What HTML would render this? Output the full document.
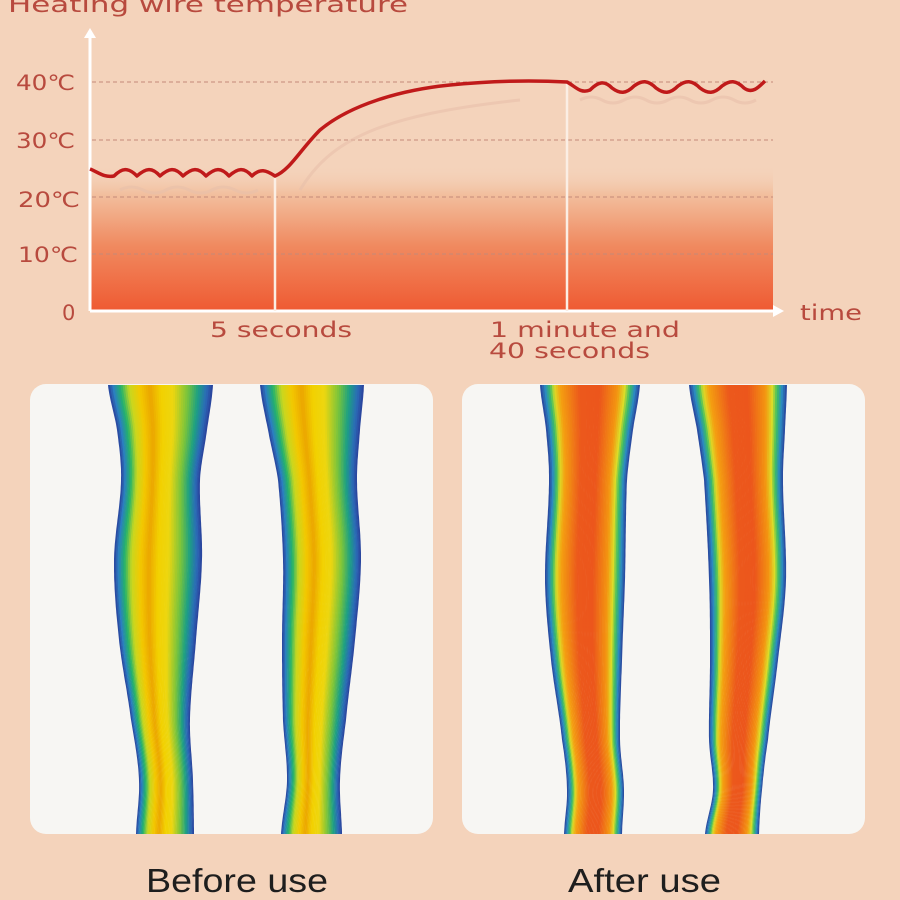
<!DOCTYPE html>
<html><head><meta charset="utf-8"><style>
html,body{margin:0;padding:0;background:#f4d3bb;}
svg{display:block}
.lb{font-family:"DejaVu Sans","Liberation Sans",sans-serif}
.bt{font-family:"Liberation Sans","DejaVu Sans",sans-serif}
</style></head><body>
<svg id="s" width="900" height="900" viewBox="0 0 900 900" xmlns="http://www.w3.org/2000/svg">
<defs>
<linearGradient id="fill" x1="0" y1="0" x2="0" y2="1">
<stop offset="0" stop-color="#f4d3bb" stop-opacity="0"/>
<stop offset="0.2" stop-color="#f2bf9e"/>
<stop offset="0.55" stop-color="#f08a60"/>
<stop offset="1" stop-color="#ef5a32"/>
</linearGradient>
</defs>
<text class="lb" x="8" y="12" font-size="22" fill="#b84a3e" textLength="400" lengthAdjust="spacingAndGlyphs">Heating wire temperature</text>
<rect x="90" y="165" width="683" height="146" fill="url(#fill)"/>
<g stroke="#c48a78" stroke-dasharray="4,3" stroke-width="1">
<line x1="92" y1="82" x2="773" y2="82"/>
<line x1="92" y1="140" x2="773" y2="140"/>
<line x1="92" y1="197" x2="773" y2="197"/>
<line x1="92" y1="254" x2="773" y2="254"/>
</g>
<line x1="90" y1="311" x2="90" y2="36" stroke="#fff" stroke-width="3"/>
<polygon points="84,38 96,38 90,28" fill="#fff"/>
<line x1="90" y1="311" x2="775" y2="311" stroke="#fff" stroke-width="3"/>
<polygon points="773,305 773,317 784,311" fill="#fff"/>
<line x1="275" y1="178" x2="275" y2="311" stroke="#fbeee4" stroke-width="2.5"/>
<line x1="567" y1="82" x2="567" y2="311" stroke="#fbeee4" stroke-width="2.5"/>
<path d="M120,190 q11,-6 23,0 t23,0 t23,0 t23,0 t23,0 t23,0 M300,190 C330,140 380,115 520,100 M580,100 q11,-6 22,0 t22,0 t22,0 t22,0 t22,0 t22,0 t22,0 t22,0" fill="none" stroke="#e8c0aa" stroke-width="3" opacity="0.6"/>
<path d="M90,169 C98,172 104,178 114,176 C122,168 128,167 137,176 C146,168 152,167 160,176 C169,168 175,167 183,176 C192,168 198,167 206,176 C215,168 221,167 229,176 C238,168 244,167 252,176 C260,168 266,170 275,176 C290,170 300,150 320,130 C350,105 400,90 450,85 C490,81 530,80 567,82 C575,86 580,94 590,90 C598,82 604,80 612,88 C620,94 626,94 634,86 C642,80 648,80 656,88 C664,94 670,94 678,86 C686,80 692,80 700,88 C708,94 714,94 722,86 C730,80 736,80 744,88 C752,94 758,88 765,81" fill="none" stroke="#c01a1a" stroke-width="3.5" stroke-linejoin="round"/>
<g class="lb" font-size="21" fill="#b84a3e">
<text x="16" y="90" textLength="59" lengthAdjust="spacingAndGlyphs">40℃</text>
<text x="16" y="148" textLength="59" lengthAdjust="spacingAndGlyphs">30℃</text>
<text x="18" y="207" textLength="62" lengthAdjust="spacingAndGlyphs">20℃</text>
<text x="18" y="262" textLength="60" lengthAdjust="spacingAndGlyphs">10℃</text>
<text x="62" y="320">0</text>
<text x="210" y="337" textLength="142" lengthAdjust="spacingAndGlyphs">5 seconds</text>
<text x="490" y="337" textLength="190" lengthAdjust="spacingAndGlyphs">1 minute and</text>
<text x="489" y="358" textLength="161" lengthAdjust="spacingAndGlyphs">40 seconds</text>
<text x="800" y="320" textLength="62" lengthAdjust="spacingAndGlyphs">time</text>
</g>
<rect x="30" y="384" width="403" height="450" rx="16" fill="#f7f6f3"/>
<rect x="462" y="384" width="403" height="450" rx="16" fill="#f7f6f3"/>
<g id="legs"></g>
<g class="bt" font-size="33" fill="#1e1e1e">
<text x="146" y="892" textLength="182" lengthAdjust="spacingAndGlyphs">Before use</text>
<text x="568" y="892" textLength="153" lengthAdjust="spacingAndGlyphs">After use</text>
</g>
</svg>
<script>
(function(){
var before=[[0,[42,63,154]],[0.05,[43,127,192]],[0.12,[34,178,106]],[0.2,[200,216,32]],[0.3,[243,200,0]],[0.4,[235,166,0]],[0.5,[242,208,0]],[0.62,[236,214,16]],[0.76,[120,196,60]],[0.86,[28,160,130]],[0.94,[43,108,184]],[1,[42,63,154]]];
var after=[[0,[42,63,154]],[0.05,[43,138,192]],[0.1,[60,191,96]],[0.14,[220,220,40]],[0.2,[244,160,16]],[0.4,[236,88,28]],[0.6,[236,86,28]],[0.78,[243,150,16]],[0.85,[220,220,40]],[0.9,[60,191,96]],[0.95,[43,138,192]],[1,[42,63,154]]];
function col(st,t){for(var i=1;i<st.length;i++){if(t<=st[i][0]){var a=st[i-1],b=st[i],f=(t-a[0])/(b[0]-a[0]);return 'rgb('+a[1].map(function(v,k){return Math.round(v+(b[1][k]-v)*f)}).join(',')+')';}}return 'rgb(42,63,154)';}
function cr(p0,p1,p2,p3,f){var f2=f*f,f3=f2*f;return 0.5*((2*p1)+(-p0+p2)*f+(2*p0-5*p1+4*p2-p3)*f2+(-p0+3*p1-3*p2+p3)*f3);}
function edge(rows,y){var n=rows.length;for(var i=1;i<n;i++){if(y<=rows[i][0]){var a=rows[i-1],b=rows[i],f=(y-a[0])/(b[0]-a[0]);var a0=rows[Math.max(0,i-2)],b1=rows[Math.min(n-1,i+1)];return [cr(a0[1],a[1],b[1],b1[1],f),cr(a0[2],a[2],b[2],b1[2],f)];}}var l=rows[n-1];return [l[1],l[2]];}
var g=document.getElementById('legs'),ns='http://www.w3.org/2000/svg';
function leg(rows,st){var ys=[];for(var y=385;y<=834;y+=3)ys.push(y);ys.push(834);var N=50;
for(var i=0;i<N;i++){var t0=i/N,t1=(i+1)/N+0.004,pts=[],back=[];ys.forEach(function(y){var e=edge(rows,y),w=e[1]-e[0];pts.push((e[0]+w*t0).toFixed(1)+','+y);back.unshift((e[0]+w*Math.min(1,t1)).toFixed(1)+','+y);});
var p=document.createElementNS(ns,'polygon');p.setAttribute('points',pts.concat(back).join(' '));p.setAttribute('fill',col(st,(i+0.5)/N));g.appendChild(p);}}
leg([[385,108,213],[430,117,207],[480,121,200],[560,114,202],[640,119,196],[720,131,190],[780,139,193],[834,136,194]],before);
leg([[385,260,364],[430,268,360],[480,278,357],[560,283,361],[640,282,355],[720,283,346],[780,287,340],[834,281,342]],before);
leg([[385,540,640],[430,546,633],[480,549,627],[580,545,625],[660,551,622],[740,562,620],[790,567,624],[834,564,622]],after);
leg([[385,689,787],[430,697,785],[480,704,783],[580,709,786],[660,710,778],[740,709,768],[790,713,762],[834,705,759]],after);
})();
</script>
</body></html>
